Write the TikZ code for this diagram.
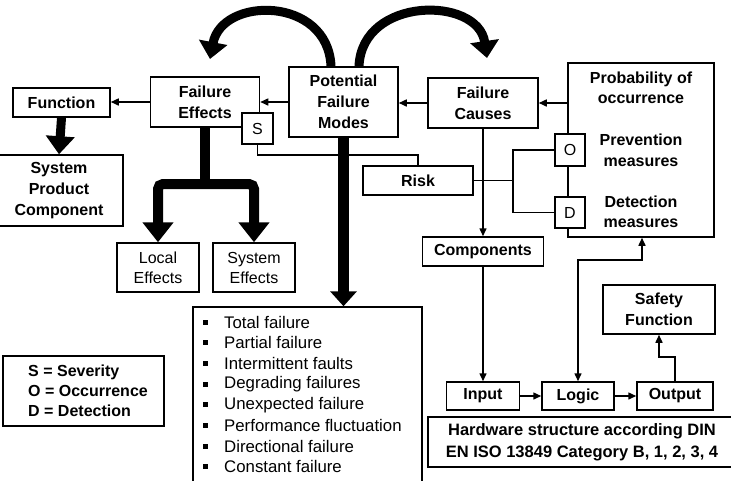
\documentclass[tikz,border=0pt]{standalone}
\usepackage{fontspec}
\setmainfont{Liberation Sans}
\usetikzlibrary{arrows.meta,calc}
\begin{document}
\begin{tikzpicture}[x=1pt,y=-1pt,
  bx/.style={draw,line width=1.5pt,fill=white,inner sep=0pt,align=center,font=\bfseries\fontsize{16}{21}\selectfont},
  rb/.style={bx,font=\fontsize{16}{20}\selectfont},
  txt/.style={inner sep=0pt,align=center,font=\bfseries\fontsize{16}{20.5}\selectfont},
  ln/.style={line width=1.5pt},
  tip/.style={-{Triangle[length=8pt,width=7pt]}},
  arr/.style={ln,tip},
  darr/.style={ln,{Triangle[length=8pt,width=7pt]}-{Triangle[length=8pt,width=7pt]}},
  curv/.style={line width=9pt,-{Triangle[length=17pt,width=28pt]}},
  listtxt/.style={anchor=west,inner sep=0pt,font=\fontsize{16.8}{20}\selectfont}]
\useasboundingbox (0,0) rectangle (731,480);
% boxes
\node[bx,minimum width=97pt,minimum height=29pt] (func) at (61.5,102.5) {Function};
\node[bx,minimum width=109pt,minimum height=50pt] (fe) at (205,102) {Failure\\Effects};
\node[bx,minimum width=109pt,minimum height=70pt] (pfm) at (343.5,102) {Potential\\Failure\\Modes};
\node[bx,minimum width=110pt,minimum height=50pt] (fc) at (483,103) {Failure\\Causes};
\node[bx,minimum width=146pt,minimum height=174pt] (prob) at (641,150) {};
\node[txt] (pt1) at (641,88) {Probability of\\occurrence};
\node[txt] (pt2) at (641,150.5) {Prevention\\measures};
\node[txt] (pt3) at (641,212) {Detection\\measures};
\node[rb,minimum width=30pt,minimum height=32pt] (obox) at (570,150) {O};
\node[rb,minimum width=30pt,minimum height=31pt] (dbox) at (570,212.5) {D};
\node[rb,minimum width=31pt,minimum height=31pt] (sbox) at (257.5,128.5) {S};
\node[bx,minimum width=110pt,minimum height=29pt] (risk) at (418,180.5) {Risk};
\node[bx,minimum width=128pt,minimum height=71pt] (sys) at (59,190.5) {System\\Product\\Component};
\node[rb,minimum width=82pt,minimum height=49pt] (local) at (158,267.5) {Local\\Effects};
\node[rb,minimum width=82pt,minimum height=49pt] (syseff) at (254,267.5) {System\\Effects};
\node[draw,line width=1.5pt,inner sep=0pt,minimum width=229pt,minimum height=183pt] (list) at (307.5,398.5) {};
\node[draw,line width=1.5pt,inner sep=0pt,minimum width=161pt,minimum height=70pt] (legend) at (83.5,391) {};
\node[anchor=west,inner sep=0pt,align=left,font=\bfseries\fontsize{16}{20}\selectfont] (legtxt) at (28,391) {S = Severity\\O = Occurrence\\D = Detection};
\node[bx,minimum width=121pt,minimum height=29pt] (comp) at (483,251.5) {Components};
\node[bx,minimum width=73pt,minimum height=28pt] (input) at (483,396) {Input};
\node[bx,minimum width=72pt,minimum height=28pt] (logic) at (578,396) {Logic};
\node[bx,minimum width=76pt,minimum height=28pt] (output) at (675,396) {Output};
\node[bx,minimum width=112pt,minimum height=49pt] (safety) at (659,309.5) {Safety\\Function};
\node[bx,minimum width=308pt,minimum height=50pt,font=\bfseries\fontsize{16.5}{22}\selectfont] (hw) at (582,442) {Hardware structure according DIN\\EN ISO 13849 Category B, 1, 2, 3, 4};
% list content
\foreach \t [count=\i from 0] in {Total failure,Partial failure,Intermittent faults,Degrading failures,Unexpected failure,Performance fluctuation,Directional failure,Constant failure}{
  \fill ($(203,322)+(0,20.7*\i)+(0,-2.5)$) rectangle +(5,5);
  \node[listtxt] (li\i) at ($(224,322)+(0,20.7*\i)$) {\t};
}
% thin connectors
\draw[arr] (fc.east -| prob.west) -- (fc.east);
\draw[arr] (fc.west) -- (fc.west -| pfm.east);
\draw[arr] (pfm.west |- fe.east) -- (fe.east);
\draw[arr] (fe.west) -- (fe.west -| func.east);
\coordinate (sr) at (418,155);
\draw[ln] (sbox.south) |- (sr) -- (risk.north);
\coordinate (rj) at (513,180.5);
\draw[ln] (risk.east) -- (rj);
\draw[ln] (obox.west) -| (rj);
\draw[ln] (dbox.west) -| (rj);
\draw[arr] (fc.south) -- (comp.north);
\draw[arr] (comp.south) -- (input.north);
\draw[arr] (input.east) -- (logic.west);
\draw[arr] (logic.east) -- (output.west);
\coordinate (lp) at (642,260);
\draw[darr] (logic.north) |- (lp) -- (lp |- prob.south);
\coordinate (oc) at (675,357);
\draw[arr] (output.north) -- (oc) -| (safety.south);
% thick arrows
\draw[line width=9pt,-{Triangle[length=18pt,width=28pt]}] (func.south) -- (sys.north);
\coordinate (tj) at (205,184);
\draw[line width=10pt] (fe.south) -- (tj);
\draw[line width=10pt,rounded corners=5pt,{Triangle[length=20pt,width=30pt]}-{Triangle[length=20pt,width=30pt]}] (local.north) |- (tj) -| (syseff.north);
\draw[line width=11pt,-{Triangle[length=15pt,width=26pt]}] (pfm.south) -- (pfm.south |- list.north);
% curved arrows
\coordinate (cl) at (210,59);
\coordinate (cr) at (487,58);
\draw[curv] ($(pfm.north)+(-12.5,0)$) .. controls (328,-4) and (222,-4) .. (cl);
\draw[curv] ($(pfm.north)+(15.5,0)$) .. controls (362,-4) and (478,-4) .. (cr);
\end{tikzpicture}
\end{document}
